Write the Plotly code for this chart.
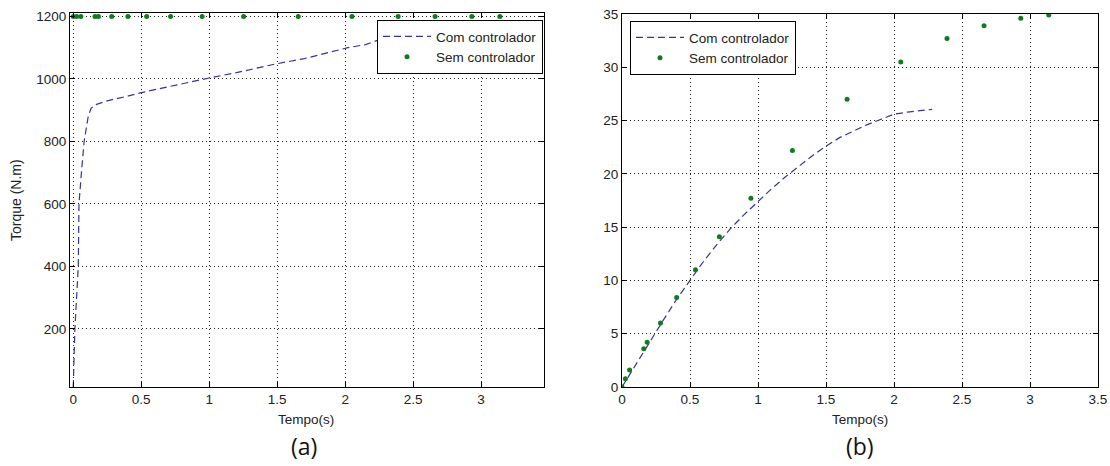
import plotly.graph_objects as go

# ---------------- data ----------------
# shared sample times of the "Sem controlador" series (s)
tempo_sem = [0, 0.025, 0.056, 0.16, 0.185, 0.283, 0.402, 0.54, 0.716, 0.948,
             1.253, 1.655, 2.05, 2.39, 2.662, 2.932, 3.138]

# Panel (a): torque
torque_sem = [1200, 1200, 1200, 1200, 1200, 1200, 1200, 1200, 1200, 1200,
              1200, 1200, 1200, 1200, 1200, 1200, 1200]
tempo_com_a = [0, 0.012, 0.037, 0.042, 0.06, 0.08, 0.11, 0.13, 0.154, 0.25,
               0.4, 0.51, 0.7, 0.85, 1.0, 1.2, 1.49, 1.7, 1.85, 2.02, 2.15, 2.28]
torque_com = [14, 200, 400, 600, 700, 800, 880, 905, 916, 930,
              945, 957, 975, 990, 1003, 1020, 1048, 1065, 1082, 1100, 1110, 1130]

# Panel (b)
vel_sem = [0, 0.78, 1.6, 3.6, 4.2, 6.0, 8.4, 11.0, 14.1, 17.7,
           22.2, 27.0, 30.5, 32.7, 33.9, 34.6, 34.9]
tempo_com_b = [0, 0.1, 0.2, 0.3, 0.4, 0.5, 0.6, 0.7, 0.8, 0.9, 1.0, 1.1,
               1.2, 1.3, 1.4, 1.5, 1.6, 1.7, 1.8, 1.9, 2.0, 2.1, 2.2, 2.28]
vel_com = [0, 2.1, 4.2, 6.2, 8.2, 10.0, 11.8, 13.4, 14.9, 16.2, 17.4, 18.6,
           19.7, 20.7, 21.7, 22.6, 23.4, 24.0, 24.6, 25.1, 25.6, 25.8, 25.95, 26.05]

xticks_a = [0, 0.5, 1, 1.5, 2, 2.5, 3]
xticks_b = [0, 0.5, 1, 1.5, 2, 2.5, 3, 3.5]
yticks_a = [200, 400, 600, 800, 1000, 1200]
yticks_b = [0, 5, 10, 15, 20, 25, 30, 35]

label_com = "Com controlador"
label_sem = "Sem controlador"

# ---------------- style ----------------
W, H = 1110, 466
FONT = "Liberation Sans, Arial, sans-serif"
LINE_COLOR = "#34349a"
DOT_COLOR = "#117a1f"
TXT = "#222222"

fig = go.Figure()

fig.add_trace(go.Scatter(x=tempo_com_a, y=torque_com, mode="lines", name=label_com,
                         line=dict(color=LINE_COLOR, width=1.2, dash="7px,4px"),
                         xaxis="x", yaxis="y", legend="legend"))
fig.add_trace(go.Scatter(x=tempo_sem, y=torque_sem, mode="markers", name=label_sem,
                         marker=dict(color=DOT_COLOR, size=5),
                         xaxis="x", yaxis="y", legend="legend"))
fig.add_trace(go.Scatter(x=tempo_com_b, y=vel_com, mode="lines", name=label_com,
                         line=dict(color=LINE_COLOR, width=1.2, dash="7px,4px"),
                         xaxis="x2", yaxis="y2", legend="legend2"))
fig.add_trace(go.Scatter(x=tempo_sem, y=vel_sem, mode="markers", name=label_sem,
                         marker=dict(color=DOT_COLOR, size=5),
                         xaxis="x2", yaxis="y2", legend="legend2"))


def px_x(p):
    return p / W


def px_y(p):
    return 1 - p / H


common_axis = dict(
    showline=True, linecolor="black", linewidth=1, mirror="ticks",
    ticks="inside", ticklen=5, tickcolor="black",
    showgrid=True, gridcolor="#222222", gridwidth=1, griddash="1px,3px",
    zeroline=False, automargin=False, ticklabeloverflow="allow",
    tickfont=dict(family=FONT, size=13.5, color=TXT),
)

legend_common = dict(
    bgcolor="white", bordercolor="black", borderwidth=1,
    font=dict(family=FONT, size=13.5, color=TXT),
    tracegroupgap=0, itemwidth=48, yanchor="top",
)

fig.update_layout(
    width=W, height=H,
    margin=dict(l=0, r=0, t=0, b=0, autoexpand=False),
    paper_bgcolor="white", plot_bgcolor="white",
    font=dict(family=FONT, size=13.5, color=TXT),
    xaxis=dict(domain=[px_x(70), px_x(544)], range=[-0.024, 3.463],
               tickvals=xticks_a, anchor="y", **common_axis),
    yaxis=dict(domain=[px_y(387), px_y(13)], range=[14, 1211],
               tickvals=yticks_a, anchor="x", **common_axis),
    xaxis2=dict(domain=[px_x(622), px_x(1098)], range=[0, 3.5],
                tickvals=xticks_b, anchor="y2", **common_axis),
    yaxis2=dict(domain=[px_y(387), px_y(14)], range=[0, 35],
                tickvals=yticks_b, anchor="x2", **common_axis),
    legend=dict(x=px_x(543), y=px_y(20), xanchor="right", **legend_common),
    legend2=dict(x=px_x(630), y=px_y(21), xanchor="left", **legend_common),
    showlegend=True,
)

ann = [
    dict(text="Torque (N.m)", x=px_x(16), y=px_y(200), textangle=-90, font=dict(size=14)),
    dict(text="Tempo(s)", x=px_x(306), y=px_y(419), font=dict(size=13.5)),
    dict(text="Tempo(s)", x=px_x(860), y=px_y(419), font=dict(size=13.5)),
    dict(text="(a)", x=px_x(304), y=px_y(446),
         font=dict(size=23, family="Open Sans, Noto Sans, sans-serif", color="#111111")),
    dict(text="(b)", x=px_x(860), y=px_y(446),
         font=dict(size=23, family="Open Sans, Noto Sans, sans-serif", color="#111111")),
]
for a in ann:
    fig.add_annotation(xref="paper", yref="paper", showarrow=False,
                       xanchor="center", yanchor="middle", **a)

# remove the browser's default 8px body margin so the figure fills the window
fig.write_html("out.html",
               config={"displayModeBar": False},
               post_script="document.body.style.margin='0px';document.body.style.overflow='hidden';")
